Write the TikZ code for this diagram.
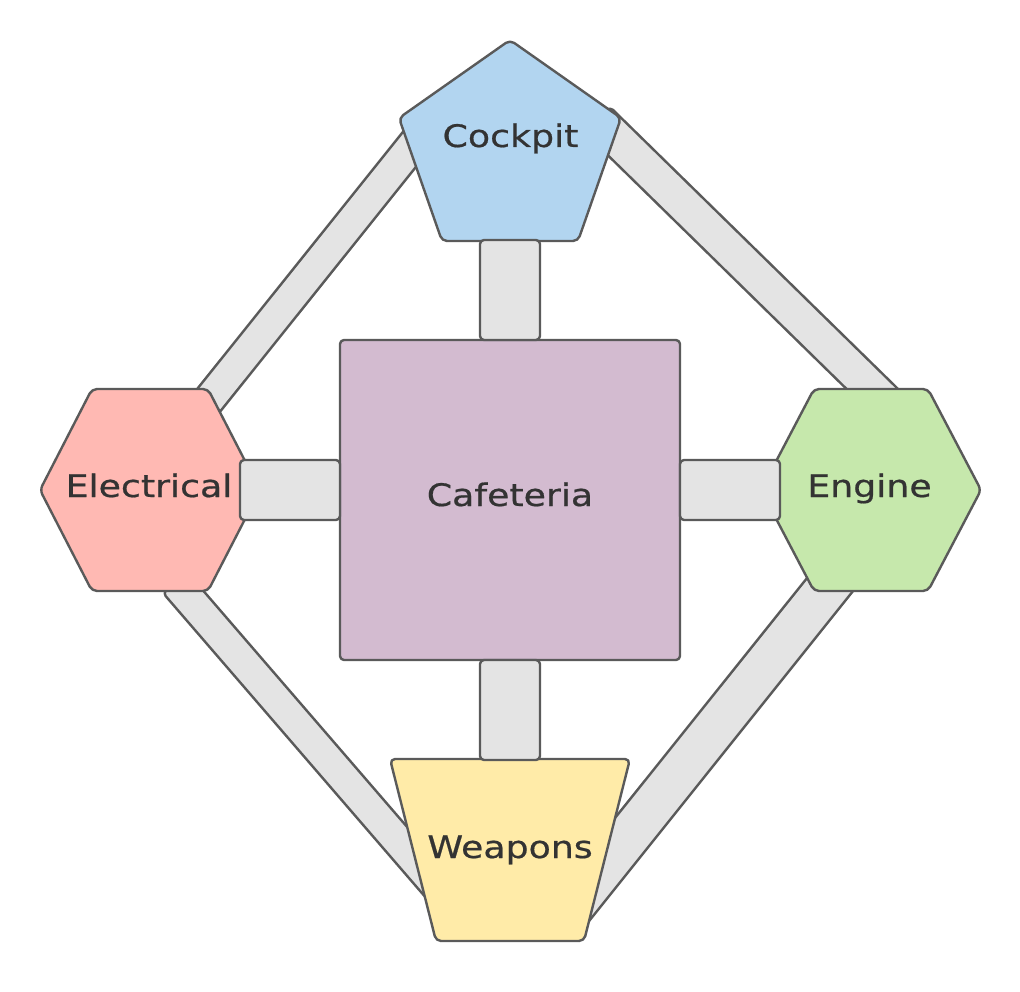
\documentclass[tikz,border=0pt]{standalone}
\usepackage{fontspec}
\setmainfont{DejaVu Sans}[FakeStretch=1.17,FakeBold=0.6]
\definecolor{strokec}{HTML}{5A5A5A}
\definecolor{bandc}{HTML}{E4E4E4}
\definecolor{textc}{HTML}{333333}
\definecolor{cockpitc}{HTML}{B2D5F0}
\definecolor{elecc}{HTML}{FFB9B3}
\definecolor{enginec}{HTML}{C6E8AC}
\definecolor{weaponc}{HTML}{FFEBA8}
\definecolor{cafec}{HTML}{D3BBD0}
\begin{document}
\begin{tikzpicture}[x=1pt,y=-1pt,line join=round,
  shapebox/.style={draw=strokec,line width=2.4pt,rounded corners=5pt},
  bandbox/.style={draw=strokec,fill=bandc,line width=2.4pt,rounded corners=4pt},
  lbl/.style={text=textc,inner sep=0pt,anchor=base,font=\fontsize{31}{36}\selectfont}]
\useasboundingbox (0,0) rectangle (1020,992);
% diagonal connector end points
\coordinate (ac1) at (173,419.2);   \coordinate (ac2) at (413.6,118.6);
\coordinate (ac3) at (438.6,138.6); \coordinate (ac4) at (198,439.2);
\coordinate (bc1) at (610,107);     \coordinate (bc2) at (924.4,414.8);
\coordinate (bc3) at (899.2,440.5); \coordinate (bc4) at (584.8,132.7);
\coordinate (cc1) at (163,593);     \coordinate (cc2) at (437.3,910.9);
\coordinate (cc3) at (461.5,890);   \coordinate (cc4) at (187.2,572.1);
\coordinate (dc1) at (832,546.8);   \coordinate (dc2) at (545.9,904.3);
\coordinate (dc3) at (580.3,932);   \coordinate (dc4) at (866.4,574.3);
% diagonal connectors (behind nodes)
\draw[bandbox] (ac1) -- (ac2) -- (ac3) -- (ac4) -- cycle;
\draw[bandbox] (bc1) -- (bc2) -- (bc3) -- (bc4) -- cycle;
\draw[bandbox] (cc1) -- (cc2) -- (cc3) -- (cc4) -- cycle;
\draw[bandbox] (dc1) -- (dc2) -- (dc3) -- (dc4) -- cycle;
% node shapes
\draw[shapebox,fill=cockpitc] (510,40) -- (621,118) -- (578,241) -- (442,241) -- (399,118) -- cycle;
\draw[shapebox,fill=elecc] (40,490) -- (92,389) -- (208,389) -- (260,490) -- (208,591) -- (92,591) -- cycle;
\draw[shapebox,fill=enginec] (761,490) -- (814,389) -- (928,389) -- (981,490) -- (928,591) -- (814,591) -- cycle;
\draw[shapebox,fill=weaponc] (390,759) -- (630,759) -- (584,941) -- (436,941) -- cycle;
\draw[shapebox,rounded corners=4pt,fill=cafec] (340,340) rectangle (680,660);
% straight connectors
\draw[bandbox] (480,240) rectangle (540,340);
\draw[bandbox] (480,660) rectangle (540,760);
\draw[bandbox] (240,460) rectangle (340,520);
\draw[bandbox] (680,460) rectangle (780,520);
% labels
\node[lbl] (cockpit) at (510.5,147) {Cockpit};
\node[lbl] (electrical) at (149,497) {Electrical};
\node[lbl] (engine) at (869.5,497) {Engine};
\node[lbl] (cafeteria) at (510,506) {Cafeteria};
\node[lbl] (weapons) at (510,858) {Weapons};
\end{tikzpicture}
\end{document}
